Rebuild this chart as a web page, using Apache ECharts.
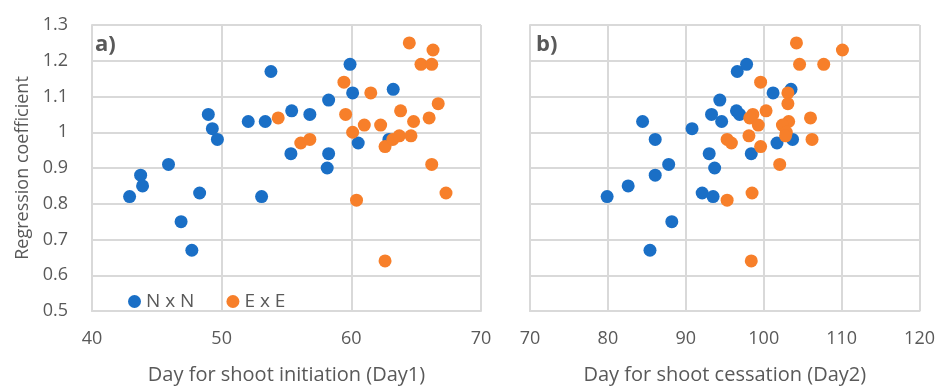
<!DOCTYPE html>
<html>
<head>
<meta charset="utf-8">
<script src="https://cdn.jsdelivr.net/npm/echarts@6/dist/echarts.min.js"></script>
<style>
  html, body { margin: 0; padding: 0; background: #fff; }
  #chart { width: 938px; height: 390px; }
</style>
</head>
<body>
<div id="chart"></div>
<script>
// N x N crosses
var nnDay1 = [42.9, 43.75, 43.9, 45.9, 48.3, 48.97, 49.28, 49.67, 46.87, 47.7, 52.05, 53.36, 53.8, 53.08, 55.4, 55.34, 56.8, 58.25, 58.25, 58.14, 59.9, 60.1, 60.53, 63.23, 62.9];
var nnCoef1 = [0.82, 0.88, 0.85, 0.91, 0.83, 1.05, 1.01, 0.98, 0.75, 0.67, 1.03, 1.03, 1.17, 0.82, 1.06, 0.94, 1.05, 1.09, 0.94, 0.90, 1.19, 1.11, 0.97, 1.12, 0.98];
var nnDay2 = [79.9, 82.6, 84.45, 86.07, 86.07, 87.8, 85.4, 88.2, 90.8, 92.1, 93.5, 93.0, 93.7, 93.3, 94.36, 94.6, 96.6, 97.8, 96.5, 96.9, 98.4, 101.2, 101.7, 103.5, 103.7];
var nnCoef2 = [0.82, 0.85, 1.03, 0.98, 0.88, 0.91, 0.67, 0.75, 1.01, 0.83, 0.82, 0.94, 0.90, 1.05, 1.09, 1.03, 1.17, 1.19, 1.06, 1.05, 0.94, 1.11, 0.97, 1.12, 0.98];
// E x E crosses
var eeDay1 = [64.47, 66.3, 65.37, 66.2, 59.43, 61.5, 59.56, 66.7, 54.36, 63.8, 64.8, 66.0, 61.0, 62.26, 60.1, 56.1, 56.8, 62.6, 63.2, 63.7, 64.6, 66.2, 67.3, 60.4, 62.6];
var eeCoef1 = [1.25, 1.23, 1.19, 1.19, 1.14, 1.11, 1.05, 1.08, 1.04, 1.06, 1.03, 1.04, 1.02, 1.02, 1.00, 0.97, 0.98, 0.96, 0.98, 0.99, 0.99, 0.91, 0.83, 0.81, 0.64];
var eeDay2 = [104.2, 110.1, 104.6, 107.7, 99.6, 103.1, 103.1, 100.3, 98.6, 98.2, 103.2, 106.0, 99.3, 102.4, 102.9, 102.8, 98.1, 95.3, 95.85, 99.6, 106.2, 102.05, 98.5, 95.3, 98.4];
var eeCoef2 = [1.25, 1.23, 1.19, 1.19, 1.14, 1.11, 1.08, 1.06, 1.05, 1.04, 1.03, 1.04, 1.02, 1.02, 1.00, 0.99, 0.99, 0.98, 0.97, 0.96, 0.98, 0.91, 0.83, 0.81, 0.64];

var xTitles = ['Day for shoot initiation (Day1)', 'Day for shoot cessation (Day2)'];
var yTitle = 'Regression coefficient';
var seriesNames = ['N x N', 'E x E'];
var colors = ['#1a6fc6', '#f77f2a'];

function pairs(xs, ys) {
    return xs.map(function (x, i) { return [x, ys[i]]; });
}

var font = '"Open Sans", sans-serif';
var gridColor = '#d9d9d9';
var textColor = '#595959';

function xAxisOf(idx, min, max) {
    return {
        gridIndex: idx,
        type: 'value',
        min: min, max: max, interval: 10,
        name: xTitles[idx],
        nameLocation: 'middle',
        nameGap: 54,
        nameTextStyle: { fontFamily: font, fontSize: 20, color: textColor },
        axisLine: { show: true, lineStyle: { color: gridColor, width: 2 } },
        axisTick: { show: false },
        axisLabel: { fontFamily: font, fontSize: 18, color: textColor, margin: 19 },
        splitLine: { show: true, lineStyle: { color: gridColor, width: 2 } }
    };
}

function yAxisOf(idx, showLabels) {
    return {
        gridIndex: idx,
        type: 'value',
        min: 0.5, max: 1.3, interval: 0.1,
        name: showLabels ? yTitle : '',
        nameLocation: 'middle',
        nameGap: 60,
        nameTextStyle: { fontFamily: font, fontSize: 18, color: textColor },
        axisLine: { show: true, lineStyle: { color: gridColor, width: 2 } },
        axisTick: { show: false },
        axisLabel: {
            show: showLabels, fontFamily: font, fontSize: 18, color: textColor, margin: 24,
            formatter: function (v) { return String(Math.round(v * 10) / 10); }
        },
        splitLine: { show: true, lineStyle: { color: gridColor, width: 2 } }
    };
}

function scatter(name, xi, data, color) {
    return {
        name: name,
        type: 'scatter',
        xAxisIndex: xi, yAxisIndex: xi,
        symbolSize: 13,
        itemStyle: { color: color, opacity: 1 },
        data: data
    };
}

var myChart = echarts.init(document.getElementById('chart'));
var option = {
    animation: false,
    grid: [
        { left: 92, width: 389, top: 25, height: 290 },
        { left: 530, width: 390, top: 25, height: 290 }
    ],
    legend: {
        data: seriesNames,
        left: 123, top: 287,
        icon: 'circle',
        itemWidth: 13, itemHeight: 13,
        itemGap: 32,
        textStyle: { fontFamily: font, fontSize: 19, color: textColor }
    },
    graphic: [
        { type: 'text', left: 95, top: 34, style: { text: 'a)', font: 'bold 22px ' + font, fill: textColor } },
        { type: 'text', left: 536, top: 34, style: { text: 'b)', font: 'bold 22px ' + font, fill: textColor } }
    ],
    xAxis: [xAxisOf(0, 40, 70), xAxisOf(1, 70, 120)],
    yAxis: [yAxisOf(0, true), yAxisOf(1, false)],
    series: [
        scatter(seriesNames[0], 0, pairs(nnDay1, nnCoef1), colors[0]),
        scatter(seriesNames[1], 0, pairs(eeDay1, eeCoef1), colors[1]),
        scatter(seriesNames[0], 1, pairs(nnDay2, nnCoef2), colors[0]),
        scatter(seriesNames[1], 1, pairs(eeDay2, eeCoef2), colors[1])
    ]
};
myChart.setOption(option, true);
</script>
</body>
</html>
